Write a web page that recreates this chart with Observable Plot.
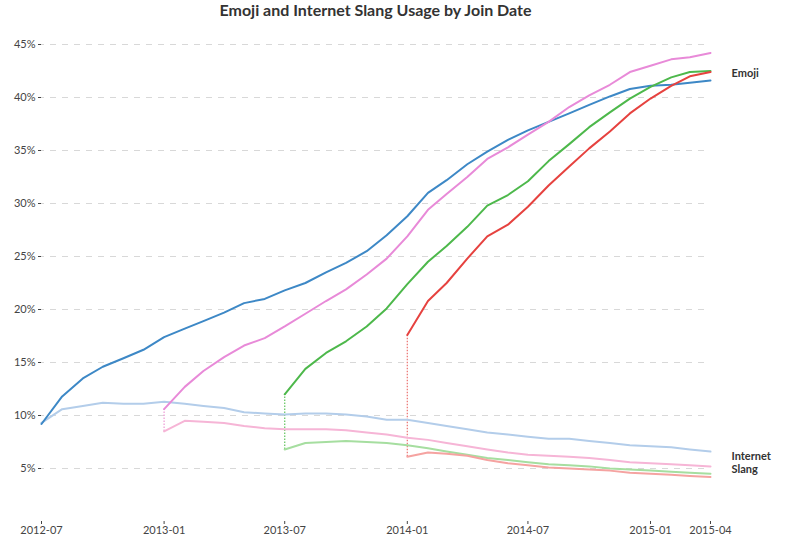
<!DOCTYPE html>
<html>
<head>
<meta charset="utf-8">
<script src="https://cdn.jsdelivr.net/npm/d3@7"></script>
<script src="https://cdn.jsdelivr.net/npm/@observablehq/plot@0.6"></script>
<style>
  html, body { margin: 0; padding: 0; background: #fff; }
  #title { height: 28px; line-height: 28px; text-align: center; font: bold 16px Lato, sans-serif; color: #333; width: 669px; padding-left: 41px; }
</style>
</head>
<body>
<div id="title">Emoji and Internet Slang Usage by Join Date</div>
<div id="chart"></div>
<script>
const months = ["2012-07","2012-08","2012-09","2012-10","2012-11","2012-12",
  "2013-01","2013-02","2013-03","2013-04","2013-05","2013-06",
  "2013-07","2013-08","2013-09","2013-10","2013-11","2013-12",
  "2014-01","2014-02","2014-03","2014-04","2014-05","2014-06",
  "2014-07","2014-08","2014-09","2014-10","2014-11","2014-12",
  "2015-01","2015-02","2015-03","2015-04"];
const xTicks = ["2012-07","2013-01","2013-07","2014-01","2014-07","2015-01","2015-04"];
const yTicks = [5, 10, 15, 20, 25, 30, 35, 40, 45];

const cohorts = ["2012-07", "2013-01", "2013-07", "2014-01"];
const emojiColors = ["#3d88c6", "#e88ad8", "#4db84b", "#e6423f"];
const slangColors = ["#b3cdea", "#f6b5d6", "#a6dea0", "#f5a3a1"];
const ruleColors = ["#7fb0dc", "#ee9fd8", "#6cc868", "#ec7a78"];

// emoji usage (%) per month, starting at each cohort's join month
const emojiBlue = [9.2, 11.8, 13.5, 14.6, 15.4, 16.2, 17.4, 18.2, 18.9, 19.7, 20.6, 21.0, 21.8, 22.5, 23.5, 24.4, 25.5, 27.0, 28.8, 31.0, 32.2, 33.7, 34.9, 36.0, 36.9, 37.7, 38.5, 39.3, 40.1, 40.8, 41.1, 41.2, 41.4, 41.6];
const emojiPink = [10.6, 12.7, 14.2, 15.5, 16.6, 17.3, 18.4, 19.6, 20.8, 21.9, 23.3, 24.8, 26.9, 29.4, 30.9, 32.5, 34.2, 35.3, 36.5, 37.7, 39.1, 40.2, 41.2, 42.4, 43.0, 43.6, 43.8, 44.2];
const emojiGreen = [12.0, 14.4, 15.9, 17.0, 18.4, 20.1, 22.4, 24.5, 26.0, 27.8, 29.8, 30.8, 32.1, 34.0, 35.6, 37.2, 38.6, 39.9, 41.0, 41.9, 42.4, 42.5];
const emojiRed = [17.6, 20.8, 22.5, 24.8, 26.9, 28.0, 29.7, 31.7, 33.5, 35.2, 36.8, 38.5, 39.9, 41.1, 42.0, 42.4];

// internet slang usage (%)
const slangBlue = [9.3, 10.6, 10.9, 11.2, 11.1, 11.1, 11.3, 11.1, 10.9, 10.7, 10.3, 10.2, 10.1, 10.2, 10.2, 10.1, 9.9, 9.6, 9.6, 9.3, 9.0, 8.7, 8.4, 8.2, 8.0, 7.8, 7.8, 7.6, 7.4, 7.2, 7.1, 7.0, 6.8, 6.6];
const slangPink = [8.5, 9.5, 9.4, 9.3, 9.0, 8.8, 8.7, 8.7, 8.7, 8.6, 8.4, 8.2, 7.9, 7.7, 7.4, 7.1, 6.8, 6.5, 6.3, 6.2, 6.1, 6.0, 5.8, 5.6, 5.5, 5.4, 5.3, 5.2];
const slangGreen = [6.8, 7.4, 7.5, 7.6, 7.5, 7.4, 7.2, 6.9, 6.6, 6.3, 6.0, 5.8, 5.6, 5.4, 5.3, 5.2, 5.0, 4.9, 4.8, 4.7, 4.6, 4.5];
const slangRed = [6.1, 6.5, 6.4, 6.2, 5.8, 5.5, 5.3, 5.1, 5.0, 4.9, 4.8, 4.6, 4.5, 4.4, 4.3, 4.2];

const labelTexts = ["Emoji", "Internet\nSlang"];
const labelValues = [42.3, 5.6];

const parse = d3.utcParse("%Y-%m");
const emojiSeries = [emojiBlue, emojiPink, emojiGreen, emojiRed];
const slangSeries = [slangBlue, slangPink, slangGreen, slangRed];

function rows(series) {
  const out = [];
  series.forEach((vals, i) => {
    const off = months.length - vals.length;
    vals.forEach((v, j) => out.push({cohort: cohorts[i], date: parse(months[off + j]), value: v}));
  });
  return out;
}
const emojiRows = rows(emojiSeries);
const slangRows = rows(slangSeries);
const startRules = cohorts.map((c, i) => ({
  cohort: c, date: parse(c), y1: slangSeries[i][0], y2: emojiSeries[i][0]
}));
const lastDate = parse(months[months.length - 1]);
const labels = labelTexts.map((t, i) => ({text: t, date: lastDate, value: labelValues[i]}));

const chart = Plot.plot({
  width: 785,
  height: 511,
  marginTop: 16,
  marginBottom: 18,
  marginLeft: 41,
  marginRight: 75,
  style: {fontFamily: "Lato, sans-serif", fontSize: "11px", color: "#444", background: "#fff"},
  x: {type: "utc", domain: [parse(months[0]), lastDate], ticks: xTicks.map(parse),
      tickFormat: d3.utcFormat("%Y-%m"), tickSize: 3, tickPadding: 2, label: null},
  y: {domain: [0, 45], ticks: yTicks, tickFormat: d => d + "%", tickSize: 3, tickPadding: 3, label: null},
  marks: [
    Plot.gridY(yTicks, {stroke: "#d8d8d8", strokeOpacity: 1, strokeDasharray: "6,6", strokeDashoffset: -9}),
    Plot.ruleX(startRules, {x: "date", y1: "y1", y2: "y2", stroke: d => ruleColors[cohorts.indexOf(d.cohort)], strokeWidth: 1.3, strokeDasharray: "1.5,1.5"}),
    Plot.lineY(slangRows, {x: "date", y: "value", z: "cohort", stroke: d => slangColors[cohorts.indexOf(d.cohort)], strokeWidth: 2}),
    Plot.lineY(emojiRows, {x: "date", y: "value", z: "cohort", stroke: d => emojiColors[cohorts.indexOf(d.cohort)], strokeWidth: 2}),
    Plot.text(labels, {x: "date", y: "value", text: "text", dx: 21, textAnchor: "start", fontWeight: "bold", fill: "#333", lineHeight: 1.2})
  ]
});
document.getElementById("chart").appendChild(chart);
</script>
</body>
</html>
